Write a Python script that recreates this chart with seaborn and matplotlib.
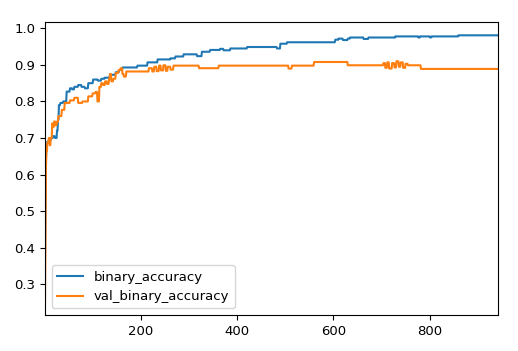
import numpy as np
import pandas as pd
import seaborn as sns
import matplotlib.pyplot as plt

n_epochs = 942

# training history:
# epoch where the value changes, and the value it holds until the next change
acc_epochs = [1, 2, 3, 4, 6, 10, 14, 18, 22, 26, 28, 30, 33, 39, 46,
              53, 58, 62, 70, 77, 84, 91, 101, 111, 118, 125, 136, 148, 155, 162,
              193, 214, 235, 262, 272, 289, 317, 327, 344, 365, 372, 386, 421, 483, 490,
              504, 604, 611, 620, 630, 635, 663, 673, 729, 777, 780, 801, 804, 860]
acc_values = [0.375, 0.55, 0.64, 0.68, 0.69, 0.695, 0.70, 0.705, 0.70, 0.72, 0.75, 0.79, 0.796, 0.80, 0.827,
              0.836, 0.833, 0.84, 0.845, 0.84, 0.836, 0.85, 0.86, 0.857, 0.862, 0.865, 0.873, 0.88, 0.886, 0.893,
              0.898, 0.907, 0.915, 0.918, 0.923, 0.929, 0.924, 0.936, 0.941, 0.944, 0.940, 0.945, 0.949, 0.945, 0.958,
              0.962, 0.969, 0.972, 0.968, 0.972, 0.975, 0.971, 0.975, 0.978, 0.975, 0.978, 0.975, 0.978, 0.981]

val_epochs = [1, 2, 3, 4, 6, 9, 11, 13, 16, 18, 20, 23, 26, 29, 36,
              42, 53, 62, 70, 79, 91, 100, 106, 110, 114, 118, 122, 126, 130, 134,
              136, 139, 143, 148, 154, 158, 162, 165, 170, 217, 224, 228, 233, 238, 242,
              247, 252, 256, 262, 268, 321, 362, 507, 514, 560, 630, 704, 708, 712, 716,
              722, 727, 731, 736, 740, 745, 750, 755, 782]
val_values = [0.252, 0.45, 0.62, 0.665, 0.687, 0.70, 0.68, 0.70, 0.74, 0.73, 0.745, 0.735, 0.745, 0.76, 0.777,
              0.796, 0.803, 0.81, 0.796, 0.80, 0.814, 0.822, 0.826, 0.80, 0.84, 0.85, 0.845, 0.855, 0.848, 0.86,
              0.875, 0.855, 0.862, 0.878, 0.886, 0.891, 0.875, 0.868, 0.882, 0.891, 0.882, 0.895, 0.883, 0.898, 0.885,
              0.899, 0.884, 0.895, 0.887, 0.898, 0.891, 0.898, 0.89, 0.898, 0.908, 0.899, 0.905, 0.892, 0.907, 0.89,
              0.905, 0.893, 0.91, 0.895, 0.907, 0.892, 0.903, 0.899, 0.889]


def expand(starts, values, n):
    # hold each value until the next change point
    out = np.empty(n)
    bounds = list(starts) + [n + 1]
    for i, v in enumerate(values):
        out[bounds[i] - 1:bounds[i + 1] - 1] = v
    return out


hist = pd.DataFrame({
    "epoch": np.arange(1, n_epochs + 1),
    "binary_accuracy": expand(acc_epochs, acc_values, n_epochs),
    "val_binary_accuracy": expand(val_epochs, val_values, n_epochs),
})

plt.rcParams["font.size"] = 9.5

fig, ax = plt.subplots(figsize=(5.18, 3.51), dpi=100)
fig.subplots_adjust(left=45/518, right=498/518, bottom=1-315/351, top=1-22/351)

sns.lineplot(x="epoch", y="binary_accuracy", data=hist, ax=ax,
             color="#1f77b4", linewidth=1.5, label="binary_accuracy")
sns.lineplot(x="epoch", y="val_binary_accuracy", data=hist, ax=ax,
             color="#ff7f0e", linewidth=1.5, label="val_binary_accuracy")

ax.set_xlim(1, n_epochs)
ax.set_xlabel("")
ax.set_ylabel("")
ax.legend(loc="lower left")

fig.savefig("out.png", dpi=100)
